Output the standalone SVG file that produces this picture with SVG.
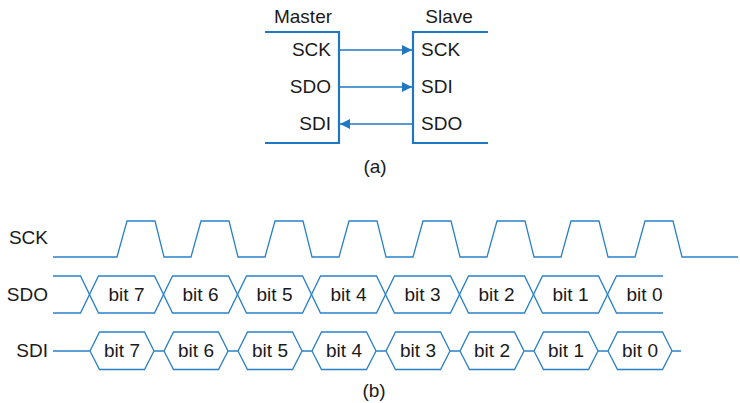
<svg xmlns="http://www.w3.org/2000/svg" width="740" height="403" viewBox="0 0 740 403">
<style>
text{font-family:"Liberation Sans",Arial,sans-serif;font-size:19px;fill:#1a1a1a}
.box{fill:none;stroke:#1f78c1;stroke-width:2.2}
.w{fill:none;stroke:#2a80c8;stroke-width:1.3}
.a{fill:none;stroke:#1f78c1;stroke-width:1.3}
.r{text-anchor:end}
.m{text-anchor:middle}
</style>
<defs>
<marker id="ah" markerWidth="10" markerHeight="10" refX="10" refY="5" orient="auto" markerUnits="userSpaceOnUse">
<path d="M0,0 L10,5 L0,10 Z" fill="#1f78c1"/>
</marker>
</defs>
<g id="master">
<path class="box" d="M265,32 H339 V143 H265"/>
<text x="303" y="23" class="m">Master</text>
<text x="331" y="56" class="r">SCK</text>
<text x="331" y="93" class="r">SDO</text>
<text x="331" y="130" class="r">SDI</text>
</g>
<g id="slave">
<path class="box" d="M488,32 H413 V143 H488"/>
<text x="449" y="23" class="m">Slave</text>
<text x="421" y="56">SCK</text>
<text x="421" y="93">SDI</text>
<text x="421" y="130">SDO</text>
</g>
<g id="connectors">
<line class="a" x1="340" y1="50" x2="412" y2="50" marker-end="url(#ah)"/>
<line class="a" x1="340" y1="87" x2="412" y2="87" marker-end="url(#ah)"/>
<line class="a" x1="412" y1="124" x2="340" y2="124" marker-end="url(#ah)"/>
</g>
<text x="375" y="173" class="m">(a)</text>
<g id="sck">
<text x="48" y="244" class="r">SCK</text>
<path class="w" d="M53,257 H117 L127,221 H155 L164,257 H191 L201,221 H229 L238,257 H265 L275,221 H303 L312,257 H339 L349,221 H377 L386,257 H413 L423,221 H451 L460,257 H487 L497,221 H525 L534,257 H561 L571,221 H599 L608,257 H635 L645,221 H673 L682,257 H738"/>
</g>
<g id="sdo">
<text x="48" y="301" class="r">SDO</text>
<path class="w" d="M53,276 H80.5 L98.5,313 H154.5 L172.5,276 H228.5 L246.5,313 H302.5 L320.5,276 H376.5 L394.5,313 H450.5 L468.5,276 H524.5 L542.5,313 H598.5 L616.5,276 H663"/>
<path class="w" d="M53,313 H80.5 L98.5,276 H154.5 L172.5,313 H228.5 L246.5,276 H302.5 L320.5,313 H376.5 L394.5,276 H450.5 L468.5,313 H524.5 L542.5,276 H598.5 L616.5,313 H663"/>
<text x="126.5" y="301" class="m">bit 7</text>
<text x="200.5" y="301" class="m">bit 6</text>
<text x="274.5" y="301" class="m">bit 5</text>
<text x="348.5" y="301" class="m">bit 4</text>
<text x="422.5" y="301" class="m">bit 3</text>
<text x="496.5" y="301" class="m">bit 2</text>
<text x="570.5" y="301" class="m">bit 1</text>
<text x="644.5" y="301" class="m">bit 0</text>
</g>
<g id="sdi">
<text x="48" y="357" class="r">SDI</text>
<path class="w" d="M53,351 H90 L99.5,332 H144.5 L154,351 L144.5,369.5 H99.5 L90,351 M154,351 H164 L173.5,332 H218.5 L228,351 L218.5,369.5 H173.5 L164,351 M228,351 H238 L247.5,332 H292.5 L302,351 L292.5,369.5 H247.5 L238,351 M302,351 H312 L321.5,332 H366.5 L376,351 L366.5,369.5 H321.5 L312,351 M376,351 H386 L395.5,332 H440.5 L450,351 L440.5,369.5 H395.5 L386,351 M450,351 H460 L469.5,332 H514.5 L524,351 L514.5,369.5 H469.5 L460,351 M524,351 H534 L543.5,332 H588.5 L598,351 L588.5,369.5 H543.5 L534,351 M598,351 H608 L617.5,332 H662.5 L672,351 L662.5,369.5 H617.5 L608,351 M672,351 H681"/>
<text x="122" y="357" class="m">bit 7</text>
<text x="196" y="357" class="m">bit 6</text>
<text x="270" y="357" class="m">bit 5</text>
<text x="344" y="357" class="m">bit 4</text>
<text x="418" y="357" class="m">bit 3</text>
<text x="492" y="357" class="m">bit 2</text>
<text x="566" y="357" class="m">bit 1</text>
<text x="640" y="357" class="m">bit 0</text>
</g>
<text x="374" y="397" class="m">(b)</text>
</svg>
